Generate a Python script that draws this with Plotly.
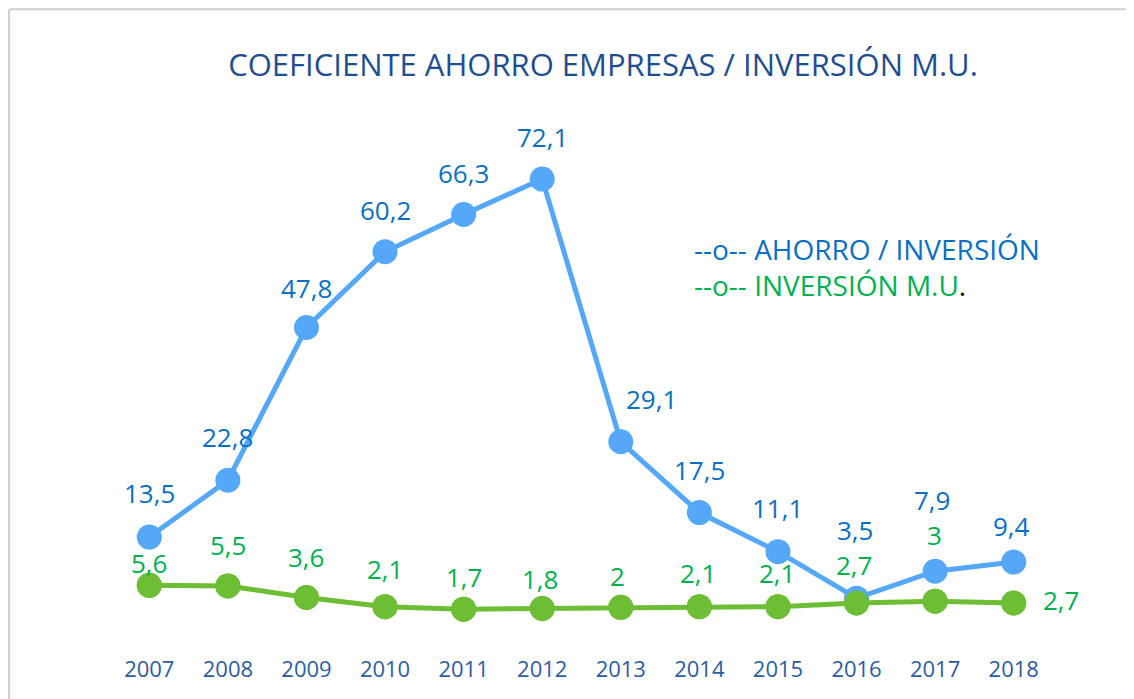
import plotly.graph_objects as go

years = ["2007", "2008", "2009", "2010", "2011", "2012", "2013", "2014", "2015", "2016", "2017", "2018"]
ahorro_inversion = [13.5, 22.8, 47.8, 60.2, 66.3, 72.1, 29.1, 17.5, 11.1, 3.5, 7.9, 9.4]
inversion_mu = [5.6, 5.5, 3.6, 2.1, 1.7, 1.8, 2.0, 2.1, 2.1, 2.7, 3.0, 2.7]

title_text = "COEFICIENTE AHORRO EMPRESAS / INVERSIÓN M.U."
legend_blue = "--o-- AHORRO / INVERSIÓN"
legend_green = "--o-- INVERSIÓN M.U"

# label placement (style): pixel offsets of each value label from its marker
blue_dx = [0, 0, 0, 0, 0, 0, 31, 0, 0, -2, -3, -2]
blue_dy = [44, 43, 40, 42, 41, 42, 43, 43, 44, 68, 71, 36]
green_dx = [0, 0, 0, 0, 0, -2, -3, -1, -1, -3, -1, 47]
green_dy = [22, 41, 41, 38, 32, 30, 31, 34, 34, 38, 66, 3]

BLUE_LINE = "#55a7f7"
GREEN_LINE = "#6dbd35"
BLUE_TXT = "#0a6fc2"
GREEN_TXT = "#00b050"
FONT = "Open Sans, Noto Sans, sans-serif"

W, H = 1126, 691  # page body has an 8px margin


def fmt(v):
    s = ("%.1f" % v).rstrip("0").rstrip(".")
    return s.replace(".", ",")


fig = go.Figure()
fig.add_trace(go.Scatter(
    x=years, y=inversion_mu, mode="lines+markers",
    line=dict(color=GREEN_LINE, width=5),
    marker=dict(color=GREEN_LINE, size=25),
    hoverinfo="skip", showlegend=False,
))
fig.add_trace(go.Scatter(
    x=years, y=ahorro_inversion, mode="lines+markers",
    line=dict(color=BLUE_LINE, width=5),
    marker=dict(color=BLUE_LINE, size=25),
    hoverinfo="skip", showlegend=False,
))
# green markers on top where the series overlap (2016)
fig.add_trace(go.Scatter(
    x=years, y=inversion_mu, mode="markers",
    marker=dict(color=GREEN_LINE, size=25),
    hoverinfo="skip", showlegend=False,
))

annotations = []
for i in range(len(years)):
    annotations.append(dict(
        x=i, y=ahorro_inversion[i], text=fmt(ahorro_inversion[i]), showarrow=False,
        xshift=blue_dx[i], yshift=blue_dy[i],
        font=dict(family=FONT, size=26, color=BLUE_TXT),
    ))
    annotations.append(dict(
        x=i, y=inversion_mu[i], text=fmt(inversion_mu[i]), showarrow=False,
        xshift=green_dx[i], yshift=green_dy[i],
        font=dict(family=FONT, size=26, color=GREEN_TXT),
    ))

legend_text = (
    f"<span style='color:{BLUE_TXT}'>{legend_blue}</span><br>"
    f"<span style='color:{GREEN_TXT}'>{legend_green}</span>"
    "<span style='color:#000000'>.</span>"
)
annotations.append(dict(
    xref="paper", yref="paper", x=0.6175, y=0.697, xanchor="left", yanchor="middle",
    align="left", text=legend_text, showarrow=False,
    font=dict(family=FONT, size=28, color=BLUE_TXT),
))

border = "#cfcfcf"
shapes = [
    dict(type="line", xref="paper", yref="paper", x0=-0.107, x1=1.1, y0=1.165, y1=1.165,
         line=dict(color=border, width=2)),
    dict(type="line", xref="paper", yref="paper", x0=-0.107, x1=-0.107, y0=-0.1, y1=1.165,
         line=dict(color=border, width=2)),
]

fig.update_layout(
    width=W, height=H,
    margin=dict(l=102, r=81, t=92, b=49),
    paper_bgcolor="white", plot_bgcolor="white",
    title=dict(text=title_text, x=595 / W, xanchor="center", y=1 - 57 / H, yanchor="middle",
               yref="container", xref="container",
               font=dict(family=FONT, size=31, color="#1f4e8f")),
    xaxis=dict(type="category", range=[-0.5, 11.5], showgrid=False, zeroline=False,
               showline=False, ticks="", ticklabelstandoff=4,
               tickfont=dict(family=FONT, size=22, color="#2e5c9e")),
    yaxis=dict(range=[-4.99, 85.04], visible=False, showgrid=False, zeroline=False),
    annotations=annotations,
    shapes=shapes,
    hovermode=False,
)

fig.write_html("out.html")
